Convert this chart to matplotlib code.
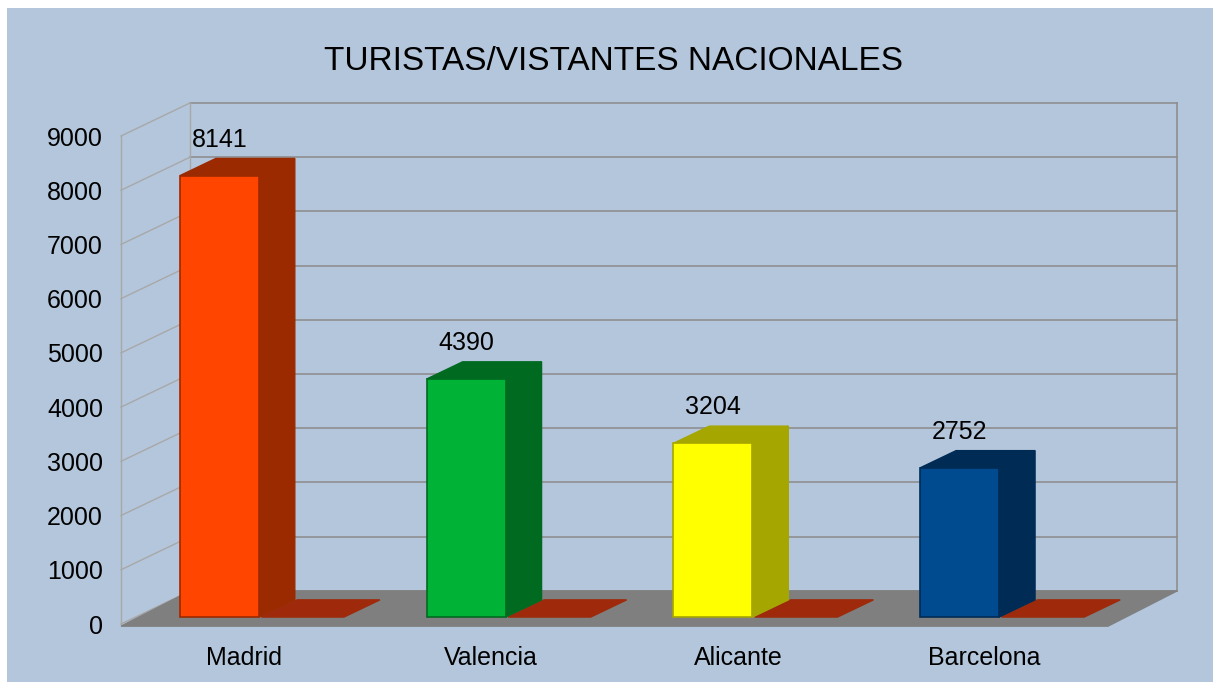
import matplotlib
matplotlib.use("Agg")
import matplotlib.pyplot as plt
from matplotlib.patches import Rectangle

plt.rcParams['font.family'] = ['Liberation Sans', 'DejaVu Sans']

# ---- data ----
categorias = ["Madrid", "Valencia", "Alicante", "Barcelona"]
turistas = [8141, 4390, 3204, 2752]
serie2 = [0, 0, 0, 0]
y_ticks = [0, 1000, 2000, 3000, 4000, 5000, 6000, 7000, 8000, 9000]
titulo = "TURISTAS/VISTANTES NACIONALES"

# ---- style ----
BG = "#B3C6DC"
front_cols = ["#FF4500", "#00B336", "#FFFF00", "#004A8F"]
side_cols = ["#9C2A00", "#006A21", "#A6A600", "#002B55"]
patch_col = "#9E2A0B"
floor_col = "#7F7F7F"

W, H = 1213, 682
fig = plt.figure(figsize=(W / 100, H / 100), dpi=100)
fig.patch.set_facecolor("white")
fig.add_artist(Rectangle((7 / W, -0.1), 1.2, 1.1 - 8 / H, transform=fig.transFigure,
                         facecolor=BG, edgecolor="none", zorder=-10))

ax = fig.add_axes([121 / W, 58 / H, 987 / W, 488 / H])
ax.set_xlim(0, 4)
ax.set_ylim(0, 9000)
ax.patch.set_visible(False)
for s in ax.spines.values():
    s.set_visible(False)

# depth of the 3D box in data units
DX = 0.28
DY = 610
f0, f1 = 0.21, 0.73  # bar front / back depth fractions
ddx, ddy = (f1 - f0) * DX, (f1 - f0) * DY
BW = 0.32

# walls / gridlines
grid_back = "#8E8E8E"
grid_left = "#A8A8A8"
for v in y_ticks:
    ax.plot([DX, 4 + DX], [v + DY, v + DY], color=grid_back, lw=1.2, clip_on=False, zorder=1)
    ax.plot([0, DX], [v, v + DY], color=grid_left, lw=1.0, clip_on=False, zorder=1)
ax.plot([0, 0], [0, y_ticks[-1]], color=grid_left, lw=1.0, clip_on=False, zorder=1)
ax.plot([DX, DX], [DY, y_ticks[-1] + DY], color=grid_left, lw=1.0, clip_on=False, zorder=1)
ax.plot([4 + DX, 4 + DX], [DY, y_ticks[-1] + DY], color=grid_back, lw=1.2, clip_on=False, zorder=1)

# floor
ax.fill([0, 4, 4 + DX, DX], [-40, -40, DY, DY], color=floor_col, clip_on=False, zorder=2)

base = f0 * DY
for i, (v, v2) in enumerate(zip(turistas, serie2)):
    xl = i + 0.18 + f0 * DX
    xr = xl + BW
    # second (flat) series
    x2l = xr + 0.01
    x2r = x2l + BW + 0.015
    ax.fill([x2l, x2r, x2r + ddx, x2l + ddx],
            [base + v2, base + v2, base + v2 + ddy, base + v2 + ddy],
            color=patch_col, clip_on=False, zorder=3)
    # side face
    ax.fill([xr, xr + ddx, xr + ddx, xr],
            [base, base + ddy, base + v + ddy, base + v],
            color=side_cols[i], clip_on=False, zorder=4)
    # top face
    ax.fill([xl, xr, xr + ddx, xl + ddx],
            [base + v, base + v, base + v + ddy, base + v + ddy],
            color=side_cols[i], clip_on=False, zorder=4)

# front faces
xs = [i + 0.18 + f0 * DX for i in range(len(turistas))]
ax.bar(xs, turistas, width=BW, bottom=base, align="edge", color=front_cols,
       edgecolor=[c for c in side_cols], linewidth=1.2, zorder=5, clip_on=False)

for x, v in zip(xs, turistas):
    ax.annotate(str(v), xy=(x + BW / 2, base + v), xytext=(0, 36),
                textcoords="offset pixels", ha="center", va="center",
                fontsize=18, color="black", zorder=6)

ax.set_yticks(y_ticks)
ax.set_yticklabels([str(t) for t in y_ticks], fontsize=18)
ax.set_xticks([0.5, 1.5, 2.5, 3.5])
ax.set_xticklabels(categorias, fontsize=18)
ax.tick_params(axis="y", length=0, pad=13)
ax.tick_params(axis="x", length=0, pad=16)

fig.text(613 / W, 1 - 62 / H, titulo, ha="center", va="center", fontsize=24)

fig.savefig("out.png", dpi=100)
